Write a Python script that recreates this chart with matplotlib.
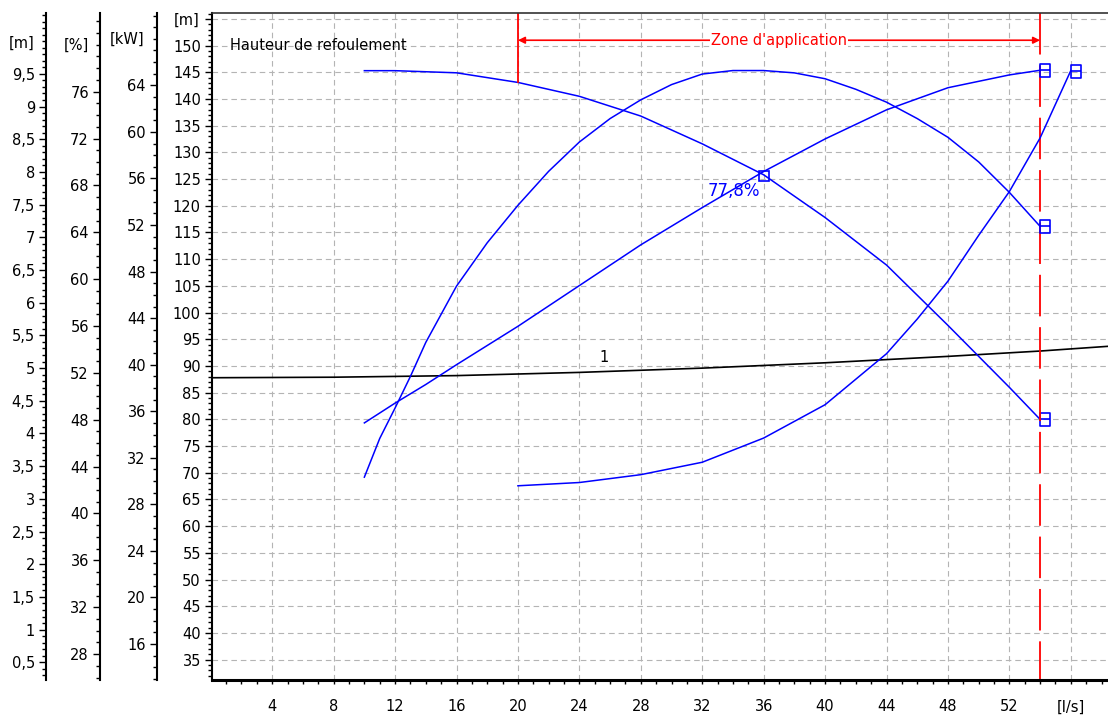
import matplotlib
matplotlib.use('Agg')
import matplotlib.pyplot as plt
import numpy as np
from matplotlib.path import Path
from matplotlib.ticker import MultipleLocator, FixedLocator, FuncFormatter

plt.rcParams['font.family'] = ['DejaVu Sans']

# --- data ---
# head curve [m]
q_head = [10, 12, 16, 20, 24, 28, 32, 36, 40, 44, 48, 52, 54]
head = [145.3, 145.3, 144.9, 143.1, 140.5, 136.8, 131.6, 125.8, 117.8, 108.9, 97.6, 86.0, 80.0]

# efficiency [%]
q_eff = [10, 11, 12, 13, 14, 16, 18, 20, 22, 24, 26, 28, 30, 32, 34, 36, 38, 40, 42, 44, 46, 48, 50, 52, 54]
eff = [43.1, 46.4, 49.0, 51.7, 54.6, 59.4, 63.1, 66.3, 69.2, 71.7, 73.7, 75.3, 76.6, 77.5, 77.8, 77.8,
       77.6, 77.1, 76.2, 75.1, 73.7, 72.1, 70.0, 67.4, 64.5]

# power [kW]
q_pow = [10, 12, 14, 16, 20, 24, 28, 32, 36, 40, 44, 48, 52, 54]
power = [35.0, 36.7, 38.3, 40.0, 43.3, 46.8, 50.3, 53.5, 56.6, 59.4, 61.9, 63.8, 64.9, 65.3]

# NPSH [m]
q_npsh = [20, 24, 28, 32, 36, 40, 44, 46, 48, 50, 52, 54, 56]
npsh = [3.20, 3.25, 3.37, 3.56, 3.93, 4.44, 5.22, 5.75, 6.33, 7.03, 7.70, 8.52, 9.55]

# system curve "1" [m]
q_sys = [0, 8, 16, 24, 32, 40, 48, 54, 58.5]
h_sys = [87.8, 87.9, 88.2, 88.8, 89.6, 90.6, 91.8, 92.8, 93.7]

# best efficiency point
bep_q = [36.0]
bep_h = [125.6]
bep_label = '77,8%'

zone = [20, 54]  # zone d'application [l/s]

BLUE = '#0000ff'
W, H = 1108, 715

fig = plt.figure(figsize=(W / 100, H / 100), dpi=100)
ax = fig.add_axes([212 / W, 35 / H, 896 / W, 667 / H])
ax.set_xlim(0.08, 58.42)
ax.set_ylim(31.2, 156.1)

comma = FuncFormatter(lambda v, p: ('%g' % v).replace('.', ','))

# main axes look
ax.spines['right'].set_visible(False)
ax.spines['left'].set_linewidth(1.5)
ax.spines['bottom'].set_linewidth(2.2)
ax.spines['top'].set_linewidth(1.2)
ax.spines['top'].set_color('#333333')
ax.xaxis.set_major_locator(MultipleLocator(4))
ax.xaxis.set_minor_locator(MultipleLocator(1))
ax.xaxis.set_major_formatter(FuncFormatter(lambda v, p: '[l/s]' if v == 56 else '%d' % v))
ax.yaxis.set_major_locator(FixedLocator(np.arange(35, 156, 5)))
ax.yaxis.set_minor_locator(MultipleLocator(1))
ax.yaxis.set_major_formatter(FuncFormatter(lambda v, p: '' if v > 150 else '%d' % v))
ax.tick_params(axis='x', which='major', direction='out', length=3, width=1, labelsize=10.5, pad=11)
ax.tick_params(axis='x', which='minor', direction='out', length=3, width=1)
ax.tick_params(axis='y', which='major', direction='out', length=5, width=1, labelsize=10.5, pad=3)
ax.tick_params(axis='y', which='minor', direction='out', length=3, width=1)
ax.grid(True, which='major', color='#b4b4b4', linestyle=(0, (5, 3.5)), linewidth=0.8)
ax.set_axisbelow(True)


def side_axis(pos, lo, hi, major, minor, fmt):
    a = ax.twinx()
    for s in ['top', 'right', 'bottom']:
        a.spines[s].set_visible(False)
    a.spines['left'].set_visible(True)
    a.spines['left'].set_position(('axes', pos))
    a.spines['left'].set_linewidth(1.5)
    a.yaxis.set_ticks_position('left')
    a.set_ylim(lo, hi)
    a.yaxis.set_major_locator(FixedLocator(major))
    a.yaxis.set_minor_locator(MultipleLocator(minor))
    a.yaxis.set_major_formatter(fmt)
    a.tick_params(axis='y', which='major', direction='out', length=5, width=1, labelsize=10.5, pad=3)
    a.tick_params(axis='y', which='minor', direction='out', length=3, width=1)
    return a


ax_kw = side_axis((157 - 212) / 896, 12.91, 70.22, np.arange(16, 65, 4), 1, FuncFormatter(lambda v, p: '%d' % v))
ax_pct = side_axis((100 - 212) / 896, 25.79, 82.71, np.arange(28, 77, 4), 1, FuncFormatter(lambda v, p: '%d' % v))
ax_npsh = side_axis((46 - 212) / 896, 0.23, 10.43, np.arange(0.5, 9.6, 0.5), 0.1, comma)

# unit labels on top of each scale
for x, y, s in [(187, 20, '[m]'), (127, 39, '[kW]'), (76, 45, '[%]'), (22, 43, '[m]')]:
    fig.text(x / W, 1 - y / H, s, ha='center', va='center', fontsize=10.5)

# end marker: box with a bar through it, drawn to the right of the point
bmark = Path([(0, -0.65), (1, -0.65), (1, 0.65), (0, 0.65), (0, -0.65), (0, 0), (1, 0)],
             [Path.MOVETO, Path.LINETO, Path.LINETO, Path.LINETO, Path.CLOSEPOLY, Path.MOVETO, Path.LINETO])
mk = dict(marker=bmark, markevery=[-1], ms=14.4, mfc='none', mec=BLUE, mew=1.2)

# curves
ax.plot(q_sys, h_sys, color='black', lw=1.2)
ax.text(25.6, 91.6, '1', ha='center', va='center', fontsize=10.5)
ax.plot(q_head, head, color=BLUE, lw=1.1, **mk)
ax_pct.plot(q_eff, eff, color=BLUE, lw=1.1, **mk)
ax_kw.plot(q_pow, power, color=BLUE, lw=1.1, **mk)
ax_npsh.plot(q_npsh, npsh, color=BLUE, lw=1.1, **mk)
ax.plot(bep_q, bep_h, marker='s', ms=7.5, mfc='none', mec=BLUE, mew=1.2, ls='none')
ax.text(bep_q[0] - 0.2, bep_h[0] - 2.8, bep_label, color=BLUE, ha='right', va='center', fontsize=12)

# zone d'application
top = ax.get_ylim()[1]
bottom = ax.get_ylim()[0]
ax.plot([zone[0], zone[0]], [top, np.interp(zone[0], q_head, head)], color='red', lw=1.3)
ax.plot([zone[1], zone[1]], [top, bottom], color='red', lw=1.3, linestyle=(0, (23, 6)))
y_arrow = 151.0
ax.annotate('', xy=(zone[0], y_arrow), xytext=(zone[1], y_arrow),
            arrowprops=dict(arrowstyle='<|-|>', color='red', lw=1.2, shrinkA=0, shrinkB=0,
                            mutation_scale=10))
ax.text(sum(zone) / 2, y_arrow, "Zone d'application", color='red', ha='center', va='center',
        fontsize=10.5, bbox=dict(facecolor='white', edgecolor='none', pad=0.5))

ax.text(0.02, 0.952, 'Hauteur de refoulement', transform=ax.transAxes, ha='left', va='center',
        fontsize=10.5)

fig.savefig('out.png', dpi=100)
